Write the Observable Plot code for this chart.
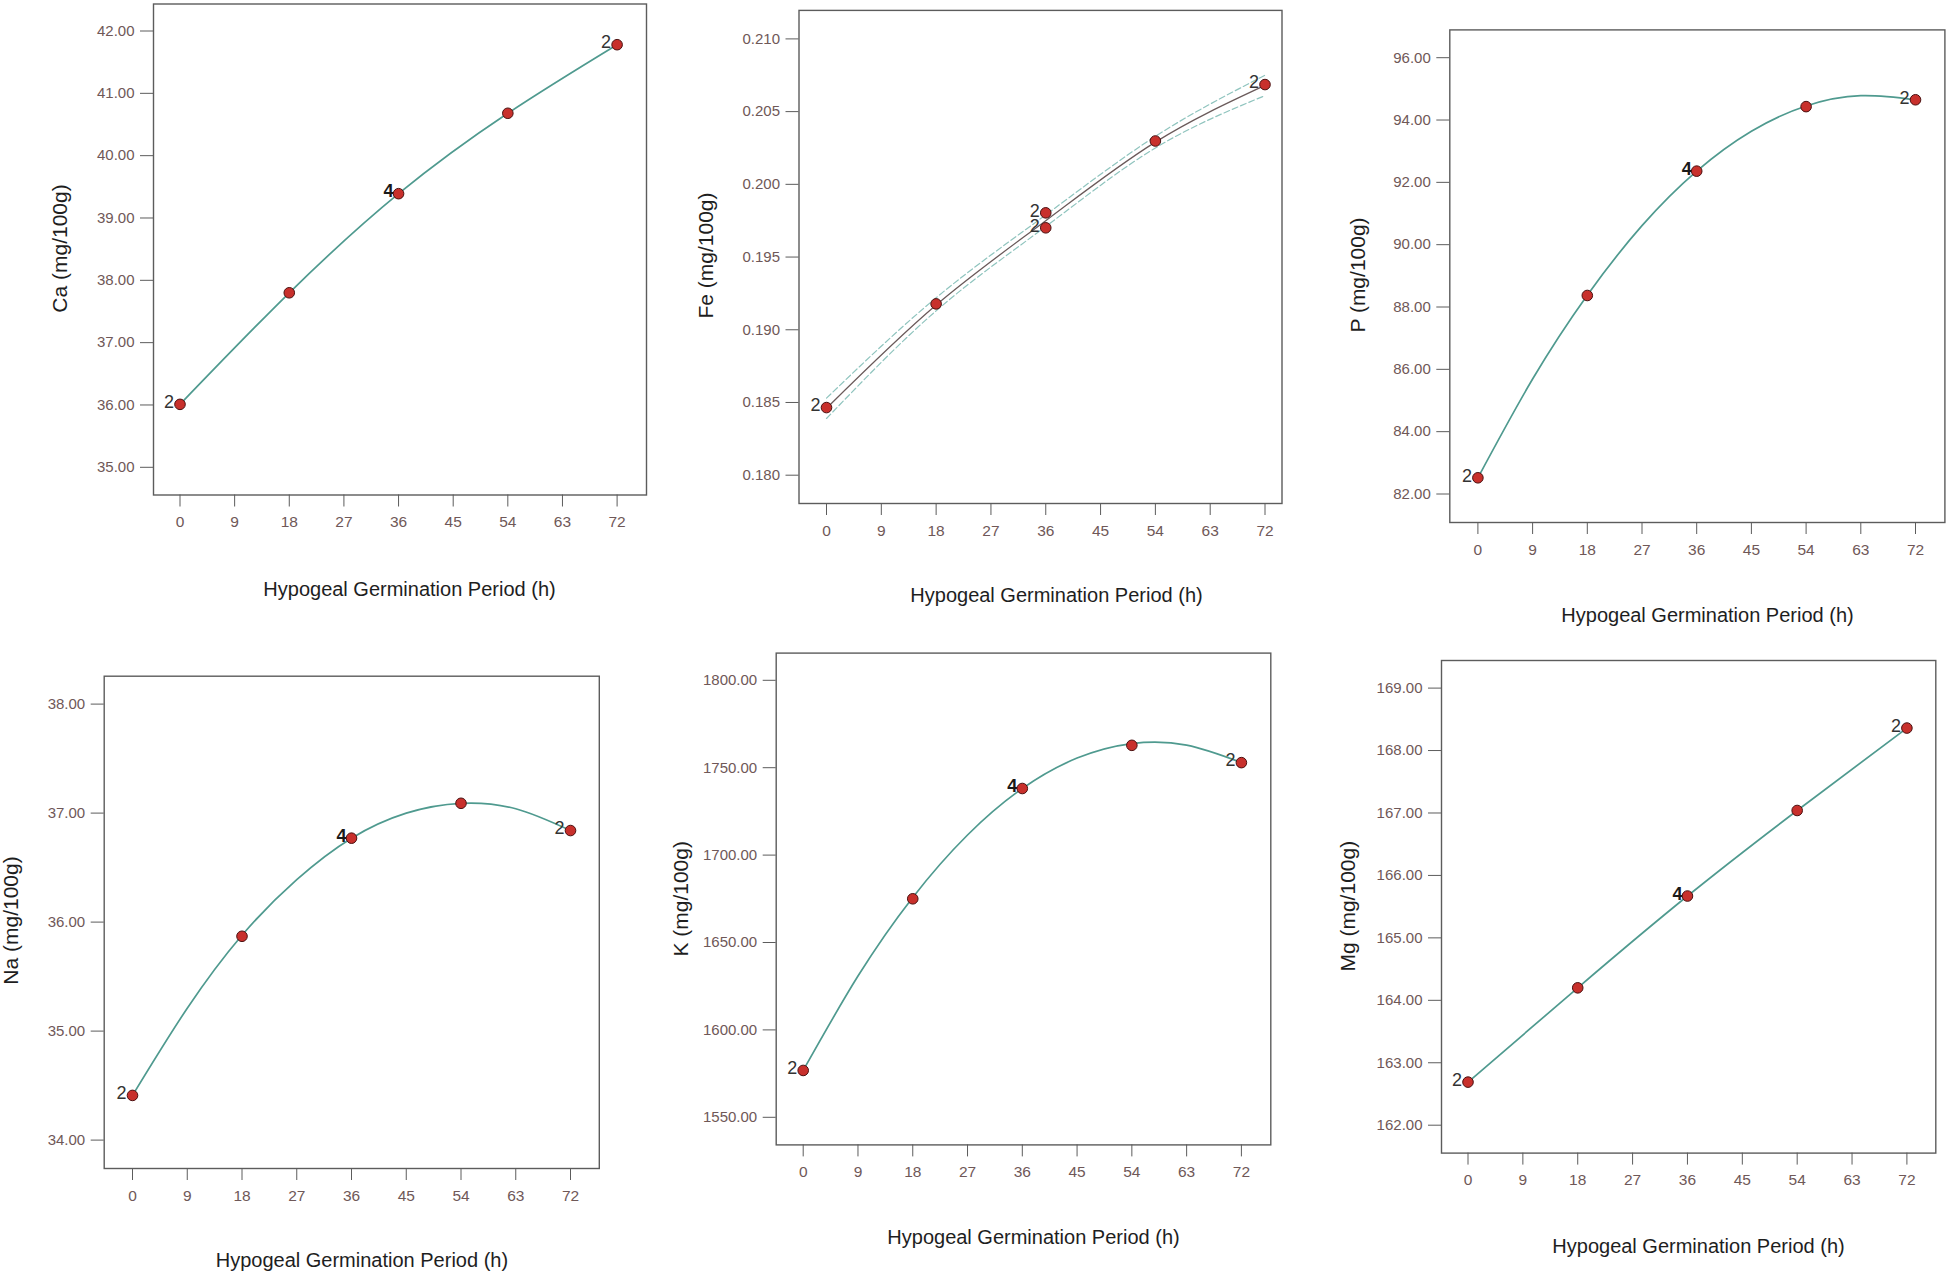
<!DOCTYPE html>
<html>
<head>
<meta charset="utf-8">
<script src="https://cdn.jsdelivr.net/npm/d3@7"></script>
<script src="https://cdn.jsdelivr.net/npm/@observablehq/plot@0.6"></script>
<style>
  html, body { margin: 0; padding: 0; background: #ffffff; }
  #root { position: relative; width: 1946px; height: 1275px; overflow: hidden; background: #ffffff; }
  .panel { position: absolute; }
</style>
</head>
<body>
<div id="root"></div>
<script>
// ---------------- data ----------------
const hours = [0, 18, 36, 54, 72];
const reps = ["2", "", "4", "", "2"];
const xTicks = [0, 9, 18, 27, 36, 45, 54, 63, 72];
const xLabel = "Hypogeal Germination Period (h)";

const ca = [36.01, 37.80, 39.39, 40.68, 41.78];
const caTicks = [35, 36, 37, 38, 39, 40, 41, 42];

const feHours = [0, 18, 36, 36, 54, 72];
const feReps = ["2", "", "2", "2", "", "2"];
const fe = [0.18465, 0.19178, 0.19804, 0.19701, 0.20298, 0.20686];
const feFit = [0.1846, 0.1917, 0.1975, 0.2029, 0.2068];
const feLower = [0.1839, 0.1913, 0.1971, 0.2025, 0.2061];
const feUpper = [0.1853, 0.1922, 0.1979, 0.2033, 0.2075];
const feTicks = [0.180, 0.185, 0.190, 0.195, 0.200, 0.205, 0.210];

const p = [82.52, 88.37, 92.36, 94.43, 94.65];
const pFit = [82.52, 85.69, 88.38, 90.61, 92.36, 93.64, 94.45, 94.78, 94.65]; // curve read at xTicks
const pTicks = [82, 84, 86, 88, 90, 92, 94, 96];

const na = [34.41, 35.87, 36.77, 37.09, 36.84];
const naFit = [34.41, 35.21, 35.88, 36.39, 36.77, 37.00, 37.09, 37.04, 36.84]; // curve read at xTicks
const naTicks = [34, 35, 36, 37, 38];

const k = [1576.8, 1675.0, 1738.1, 1762.8, 1752.9];
const kFit = [1576.8, 1630.8, 1675.8, 1711.5, 1738.1, 1755.5, 1763.8, 1762.9, 1752.9]; // curve read at xTicks
const kTicks = [1550, 1600, 1650, 1700, 1750, 1800];

const mg = [162.69, 164.20, 165.67, 167.04, 168.36];
const mgTicks = [162, 163, 164, 165, 166, 167, 168, 169];

// ---------------- styles ----------------
const FONT = '"Liberation Sans", Arial, Helvetica, sans-serif';
const FRAME = "#5c5c5c";
const TICKTXT = "#6f5858";
const TITLE = "#1e1e1e";
const LINE = "#4f9a8f";
const DOTFILL = "#c8302c";
const DOTSTROKE = "#4a1010";

const panels = [
  { yLabel: "Ca (mg/100g)", hx: hours, vals: ca, rp: reps, fitX: hours, fit: ca, yTicks: caTicks, fmt: ".2f",
    box: [0, 0, 650, 630], frame: [153, 646, 3.5, 494.5], xpx: [179.5, 616.6], ypx: [466.8, 30.5],
    xT: [409, 588.6], yT: [60, 248] },
  { yLabel: "Fe (mg/100g)", hx: feHours, vals: fe, rp: feReps, fitX: hours, fit: feFit, lower: feLower, upper: feUpper,
    yTicks: feTicks, fmt: ".3f", lineColor: "#6a5a5a",
    box: [650, 0, 650, 630], frame: [798.5, 1281.5, 9.9, 503], xpx: [826, 1264.5], ypx: [474.7, 38.4],
    xT: [1056, 595.3], yT: [706, 255] },
  { yLabel: "P (mg/100g)", hx: hours, vals: p, rp: reps, fitX: xTicks, fit: pFit, yTicks: pTicks, fmt: ".2f",
    box: [1300, 0, 646, 640], frame: [1449.3, 1944.4, 29.4, 522], xpx: [1477.4, 1915], ypx: [493.5, 57.2],
    xT: [1707, 614.8], yT: [1357.8, 274.5] },
  { yLabel: "Na (mg/100g)", hx: hours, vals: na, rp: reps, fitX: xTicks, fit: naFit, yTicks: naTicks, fmt: ".2f",
    box: [0, 640, 650, 635], frame: [103.7, 598.8, 675.7, 1168], xpx: [132, 570], ypx: [1139.6, 703.6],
    xT: [361.4, 1260], yT: [11, 920] },
  { yLabel: "K (mg/100g)", hx: hours, vals: k, rp: reps, fitX: xTicks, fit: kFit, yTicks: kTicks, fmt: ".2f",
    box: [650, 630, 650, 645], frame: [775.7, 1270.3, 652.6, 1144.4], xpx: [802.7, 1240.9], ypx: [1116.8, 679.8],
    xT: [1033, 1237], yT: [681, 898.3] },
  { yLabel: "Mg (mg/100g)", hx: hours, vals: mg, rp: reps, fitX: hours, fit: mg, yTicks: mgTicks, fmt: ".2f",
    box: [1300, 630, 646, 645], frame: [1441, 1935.3, 660, 1152.6], xpx: [1467.5, 1906.4], ypx: [1124.7, 687.6],
    xT: [1698, 1246], yT: [1347.4, 905.7] }
];

const root = document.getElementById("root");

for (const c of panels) {
  const [ox, oy, W, H] = c.box;
  const [L, R, T, B] = c.frame;
  const pts = c.hx.map((h, i) => ({ h, v: c.vals[i], rep: c.rp[i] }));
  const fitPts = c.fitX.map((h, i) => ({ h, v: c.fit[i] }));
  const marks = [];

  marks.push(Plot.frame({ stroke: FRAME, strokeWidth: 1.4 }));
  marks.push(Plot.axisX({
    ticks: xTicks, tickSize: 12, tickPadding: 9, tickFormat: d => String(d), label: null,
    stroke: FRAME, fill: TICKTXT, fontSize: 15.5
  }));
  marks.push(Plot.axisY({
    ticks: c.yTicks, tickSize: 13, tickPadding: 6, tickFormat: d3.format(c.fmt), label: null,
    stroke: FRAME, fill: TICKTXT, fontSize: 15
  }));

  if (c.lower) {
    const lo = hours.map((h, i) => ({ h, v: c.lower[i] }));
    const hi = hours.map((h, i) => ({ h, v: c.upper[i] }));
    for (const band of [lo, hi]) {
      marks.push(Plot.line(band, { x: "h", y: "v", curve: "natural", stroke: "#8fc4be", strokeWidth: 1.2, strokeDasharray: "6,3" }));
    }
  }
  marks.push(Plot.line(fitPts, { x: "h", y: "v", curve: "natural", stroke: c.lineColor || LINE, strokeWidth: c.lineColor ? 1.3 : 1.7 }));

  marks.push(Plot.text(pts.filter(d => d.rep === "2"), {
    x: "h", y: "v", text: "rep", textAnchor: "end", dx: -6, dy: -2,
    fontSize: 18, fill: "#333333", fontFamily: FONT
  }));
  marks.push(Plot.text(pts.filter(d => d.rep === "4"), {
    x: "h", y: "v", text: "rep", textAnchor: "end", dx: -5, dy: -2,
    fontSize: 18, fontWeight: "bold", fill: "#1a1a1a", fontFamily: FONT
  }));
  marks.push(Plot.dot(pts, { x: "h", y: "v", r: 5.3, fill: DOTFILL, stroke: DOTSTROKE, strokeWidth: 1 }));

  marks.push(Plot.text([xLabel], {
    frameAnchor: "bottom-left", textAnchor: "middle", lineAnchor: "middle",
    dx: c.xT[0] - L, dy: c.xT[1] - B, fontSize: 20, fill: TITLE, fontFamily: FONT
  }));
  marks.push(Plot.text([c.yLabel], {
    frameAnchor: "left", textAnchor: "middle", lineAnchor: "middle", rotate: -90,
    dx: c.yT[0] - L, dy: c.yT[1] - (T + B) / 2, fontSize: 21, fill: TITLE, fontFamily: FONT
  }));

  const chart = Plot.plot({
    width: W, height: H,
    marginLeft: L - ox, marginRight: ox + W - R, marginTop: T - oy, marginBottom: oy + H - B,
    x: { type: "linear", domain: [0, 72], range: [c.xpx[0] - ox, c.xpx[1] - ox] },
    y: { type: "linear", domain: [c.yTicks[0], c.yTicks[c.yTicks.length - 1]], range: [c.ypx[0] - oy, c.ypx[1] - oy] },
    style: { fontFamily: FONT, fontSize: "15px", background: "transparent", overflow: "visible", maxWidth: "none" },
    marks
  });

  const div = document.createElement("div");
  div.className = "panel";
  div.style.left = ox + "px";
  div.style.top = oy + "px";
  div.style.width = W + "px";
  div.style.height = H + "px";
  div.appendChild(chart);
  root.appendChild(div);
}
</script>
</body>
</html>
